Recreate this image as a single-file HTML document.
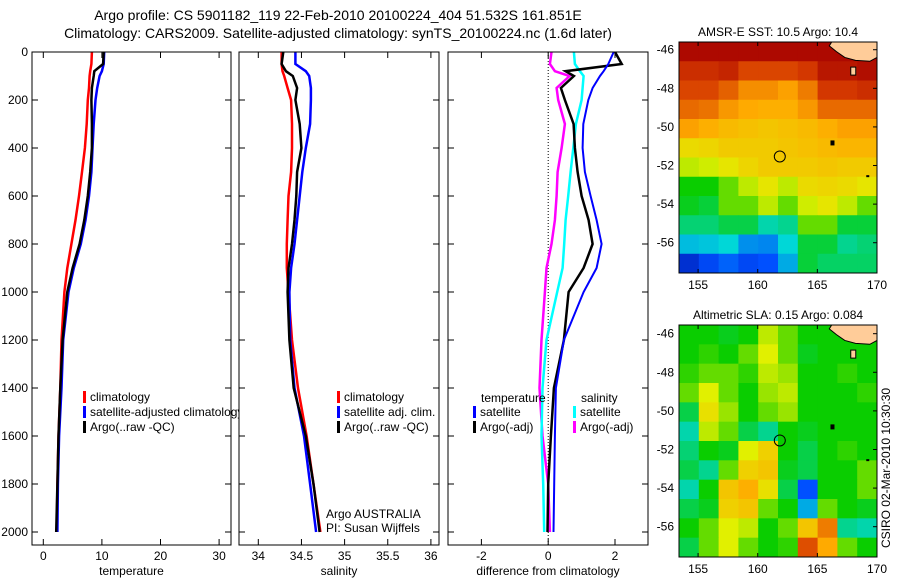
<!DOCTYPE html>
<html><head><meta charset="utf-8"><style>
body{margin:0;background:#fff}
svg{display:block;font-family:"Liberation Sans",sans-serif}
</style></head><body>
<svg id="s" width="900" height="580" viewBox="0 0 900 580">
<rect width="900" height="580" fill="#fff"/>
<text x="338" y="20" font-size="14" text-anchor="middle">Argo profile: CS 5901182_119 22-Feb-2010 20100224_404 51.532S 161.851E</text>
<text x="338" y="38" font-size="14" text-anchor="middle">Climatology: CARS2009. Satellite-adjusted climatology: synTS_20100224.nc (1.6d later)</text>
<g id="g"></g>
</svg>
<script>
const depths=[0,50,80,100,150,200,300,400,500,600,700,800,900,1000,1200,1400,1600,1800,2000];
const tempClim=[8.3,8.2,8.0,7.9,7.8,7.6,7.4,7.1,6.6,6.1,5.5,4.8,4.1,3.6,3.1,2.9,2.6,2.4,2.3];
const tempSatClim=[10.4,10.3,10.0,9.6,9.2,8.9,8.6,8.4,8.2,7.8,7.2,6.4,5.2,4.3,3.4,3.1,2.7,2.5,2.4];
const tempArgo=[10.3,10.2,8.7,8.6,8.3,8.2,8.3,8.3,8.0,7.6,7.0,6.2,5.0,4.1,3.3,2.9,2.6,2.4,2.2];
const salClim=[34.27,34.27,34.28,34.30,34.34,34.38,34.39,34.39,34.38,34.35,34.34,34.33,34.33,34.35,34.39,34.46,34.56,34.64,34.72];
const salSatClim=[34.43,34.43,34.55,34.59,34.61,34.61,34.60,34.55,34.51,34.48,34.45,34.42,34.38,34.36,34.37,34.42,34.53,34.60,34.67];
const salArgo=[34.29,34.27,34.32,34.40,34.45,34.43,34.48,34.50,34.45,34.44,34.42,34.39,34.35,34.34,34.36,34.41,34.55,34.64,34.71];
const diffTempSat=[1.96,1.8,1.66,1.55,1.33,1.2,1.05,1.03,1.1,1.27,1.45,1.6,1.45,1.06,0.47,0.23,0.2,0.18,0.16];
const diffTempArgo=[2.0,2.2,0.52,0.77,0.38,0.5,0.76,0.8,0.88,1.0,1.21,1.33,1.06,0.61,0.47,0.17,0.08,0.0,-0.02];
const diffSalSat=[0.77,0.8,0.95,1.06,1.03,1.0,0.83,0.75,0.67,0.6,0.52,0.48,0.43,0.27,-0.05,-0.17,-0.2,-0.15,-0.12];
const diffSalArgo=[0.1,0.05,0.2,0.64,0.25,0.3,0.5,0.4,0.28,0.25,0.2,0.1,-0.05,-0.1,-0.2,-0.26,-0.17,0.0,0.05];
const depthTicks=[0,200,400,600,800,1000,1200,1400,1600,1800,2000];
const tempTicks=[0,10,20,30];
const salTicks=[34,34.5,35,35.5,36];
const diffTicks=[-2,0,2];
const lonTicks=[155,160,165,170];
const latTicks=[-46,-48,-50,-52,-54,-56];
const sstGrid=[
[.98,.98,.98,.98,.98,.98,.98,.98,.98,.98],
[.9,.9,.92,.86,.86,.86,.88,.95,.95,.97],
[.86,.86,.83,.78,.78,.76,.8,.88,.88,.9],
[.82,.81,.77,.75,.74,.74,.77,.82,.82,.82],
[.76,.74,.72,.71,.7,.71,.72,.74,.76,.76],
[.66,.67,.69,.69,.69,.7,.71,.72,.73,.73],
[.6,.61,.64,.67,.69,.69,.69,.7,.69,.69],
[.5,.5,.55,.6,.64,.6,.66,.67,.66,.64],
[.48,.46,.55,.55,.6,.55,.61,.64,.6,.55],
[.42,.42,.45,.45,.38,.4,.55,.55,.46,.46],
[.32,.33,.35,.27,.26,.35,.46,.46,.4,.42],
[.12,.18,.22,.18,.2,.3,.46,.43,.43,.43]];
const slaGrid=[
[.5,.5,.48,.5,.6,.55,.5,.5,.5,.5],
[.5,.52,.5,.55,.62,.55,.48,.5,.5,.5],
[.52,.55,.55,.52,.6,.58,.5,.5,.52,.5],
[.55,.62,.55,.5,.58,.6,.5,.5,.5,.52],
[.45,.65,.58,.5,.55,.58,.5,.5,.5,.5],
[.38,.6,.55,.45,.4,.5,.48,.5,.5,.5],
[.42,.5,.48,.62,.68,.5,.45,.5,.52,.5],
[.45,.4,.55,.68,.7,.48,.45,.5,.5,.55],
[.38,.5,.7,.74,.65,.45,.2,.5,.5,.55],
[.45,.48,.68,.7,.55,.5,.3,.55,.5,.48],
[.5,.55,.62,.6,.5,.55,.7,.8,.4,.38],
[.45,.55,.62,.55,.5,.52,.85,.75,.55,.5]];
const argoLon=161.851, argoLat=-51.532;

const NS='http://www.w3.org/2000/svg';
const G=document.getElementById('g');
function mk(tag,attrs,parent){const e=document.createElementNS(NS,tag);for(const k in attrs)e.setAttribute(k,attrs[k]);(parent||G).appendChild(e);return e;}
const Y0=52,Y1=545;
const yD=d=>Y0+d*0.24;
function panel(x0,x1,xf,ticks,fmt,label,name,showY){
  const g=mk('g',{});
  
  
  mk('rect',{x:x0,y:Y0,width:x1-x0,height:Y1-Y0,fill:'#fff',stroke:'none'},g);
  ticks.forEach(t=>{const x=xf(t);
    const tk=mk('path',{d:`M${x},${Y1}v-6M${x},${Y0}v6`,stroke:'#000','stroke-width':1},g);
    
    const tl=mk('text',{x:x,y:Y1+15,'font-size':12,'text-anchor':'middle'},g);tl.textContent=fmt(t);
    });
  depthTicks.forEach(d=>{const y=yD(d);
    const tk=mk('path',{d:`M${x0},${y}h6M${x1},${y}h-6`,stroke:'#000','stroke-width':1},g);
    
    if(showY){const tl=mk('text',{x:x0-4,y:y+4,'font-size':12,'text-anchor':'end'},g);tl.textContent=d;
    }});
  const xl=mk('text',{x:(x0+x1)/2,y:575,'font-size':12,'text-anchor':'middle'},g);xl.textContent=label;
  
  return g;
}
function line(g,xf,vals,color,w,name){
  const pts=vals.map((v,i)=>xf(v).toFixed(1)+','+yD(depths[i]).toFixed(1)).join(' ');
  const p=mk('polyline',{points:pts,fill:'none',stroke:color,'stroke-width':w,'stroke-linejoin':'miter'},g);
  
}
function border(g,x0,x1){mk('rect',{x:x0,y:Y0,width:x1-x0,height:Y1-Y0,fill:'none',stroke:'#000','stroke-width':1},g);}
function legend(g,x,y,color,txt,name){
  mk('rect',{x:x,y:y-10,width:3,height:12,fill:color},g);
  const t=mk('text',{x:x+7,y:y,'font-size':12},g);t.textContent=txt;
  
}
const xT=v=>43.3+v*5.86;
const p1=panel(32,231,xT,tempTicks,t=>t,'temperature','temperature-panel',true);
line(p1,xT,tempClim,'#f00',2.5,'temp-climatology-line');
line(p1,xT,tempSatClim,'#00f',2.5,'temp-satellite-line');
line(p1,xT,tempArgo,'#000',2.5,'temp-argo-line');
legend(p1,83,401,'#f00','climatology','legend-climatology');
legend(p1,83,416,'#00f','satellite-adjusted climatology','legend-satellite');
legend(p1,83,431,'#000','Argo(..raw -QC)','legend-argo');
const xS=v=>258.3+(v-34)*86.3;
const p2=panel(239,439,xS,salTicks,t=>t,'salinity','salinity-panel',false);
line(p2,xS,salClim,'#f00',2.5,'sal-climatology-line');
line(p2,xS,salSatClim,'#00f',2.5,'sal-satellite-line');
line(p2,xS,salArgo,'#000',2.5,'sal-argo-line');
legend(p2,337,401,'#f00','climatology','legend-climatology');
legend(p2,337,416,'#00f','satellite adj. clim.','legend-satellite');
legend(p2,337,431,'#000','Argo(..raw -QC)','legend-argo');
let t1=mk('text',{x:326,y:518,'font-size':12},p2);t1.textContent='Argo AUSTRALIA';

let t2=mk('text',{x:326,y:532,'font-size':12},p2);t2.textContent='PI: Susan Wijffels';

const xDf=v=>548.2+v*33.4;
const p3=panel(448,648,xDf,diffTicks,t=>t===-2?'-2':t,'difference from climatology','difference-panel',false);
mk('line',{x1:xDf(0),y1:Y0,x2:xDf(0),y2:Y1,stroke:'#000','stroke-width':1,'stroke-dasharray':'1,2'},p3);
line(p3,xDf,diffSalArgo,'#f0f',2.5,'diff-sal-argo-line');
line(p3,xDf,diffSalSat,'#0ff',2.5,'diff-sal-satellite-line');
line(p3,xDf,diffTempArgo,'#000',2.5,'diff-temp-argo-line');
line(p3,xDf,diffTempSat,'#00f',2,'diff-temp-satellite-line');
let tt=mk('text',{x:481,y:402,'font-size':12},p3);tt.textContent='temperature';

let ts=mk('text',{x:581,y:402,'font-size':12},p3);ts.textContent='salinity';

legend(p3,473,416,'#00f','satellite','legend-temp-satellite');
legend(p3,473,431,'#000','Argo(-adj)','legend-temp-argo');
legend(p3,573,416,'#0ff','satellite','legend-sal-satellite');
legend(p3,573,431,'#f0f','Argo(-adj)','legend-sal-argo');
border(p1,32,231);border(p2,239,439);border(p3,448,648);

const cmapStops=[[0,0,0,140],[0.2,0,80,255],[0.35,0,215,215],[0.5,10,205,0],[0.62,225,240,0],[0.75,255,170,0],[0.87,215,60,0],[1,165,0,0]];
function cmap(v){v=Math.max(0,Math.min(1,v));
  for(let i=1;i<cmapStops.length;i++){const a=cmapStops[i-1],b=cmapStops[i];
    if(v<=b[0]){const f=(v-a[0])/(b[0]-a[0]);
      return `rgb(${Math.round(a[1]+f*(b[1]-a[1]))},${Math.round(a[2]+f*(b[2]-a[2]))},${Math.round(a[3]+f*(b[3]-a[3]))})`;}}
  return 'rgb(165,0,0)';}
function map(grid,top,bottom,title,name,latTop){
  const x0=679,x1=877,lonL=153.4,lonR=170;
  const xm=lon=>x0+(lon-lonL)*(x1-x0)/(lonR-lonL);
  const ym=lat=>top+(latTop-lat)*19.3;
  const g=mk('g',{});
  
  const rows=grid.length,cols=grid[0].length,cw=(x1-x0)/cols,ch=(bottom-top)/rows;
  grid.forEach((row,i)=>row.forEach((v,j)=>{
    const c=mk('rect',{x:(x0+j*cw).toFixed(2),y:(top+i*ch).toFixed(2),width:(cw+0.5).toFixed(2),height:(ch+0.5).toFixed(2),fill:cmap(v)},g);
    }));
  const land=mk('polygon',{points:`${xm(166.2)},${top} ${x1},${top} ${x1},${ym(latTop-0.8)} ${xm(169.4)},${ym(latTop-1.0)} ${xm(168.2)},${ym(latTop-0.95)} ${xm(167.3)},${ym(latTop-0.8)} ${xm(166.6)},${ym(latTop-0.5)} ${xm(166.0)},${ym(latTop-0.2)}`,fill:'#ffcc99',stroke:'#000','stroke-width':1},g);
  
  mk('rect',{x:xm(167.8),y:ym(latTop-1.3),width:5,height:8,fill:'#ffcc99',stroke:'#000','stroke-width':1},g);
  mk('rect',{x:xm(166.1),y:ym(-50.7),width:4,height:5,fill:'#000'},g);
  mk('rect',{x:xm(169.1),y:ym(-52.5),width:3,height:2,fill:'#000'},g);
  const circ=mk('circle',{cx:xm(argoLon),cy:ym(argoLat),r:5.5,fill:'none',stroke:'#000','stroke-width':1},g);
  
  mk('rect',{x:x0,y:top,width:x1-x0,height:bottom-top,fill:'none',stroke:'#000','stroke-width':1},g);
  lonTicks.forEach(l=>{const x=xm(l);mk('path',{d:`M${x},${bottom}v-4M${x},${top}v4`,stroke:'#000'},g);
    const t=mk('text',{x:x,y:bottom+16,'font-size':12,'text-anchor':'middle'},g);t.textContent=l;
    });
  latTicks.forEach(l=>{const y=ym(l);mk('path',{d:`M${x1},${y}h-4`,stroke:'#000'},g);
    const t=mk('text',{x:x0-5,y:y+4,'font-size':12,'text-anchor':'end'},g);t.textContent=l;
    });
  const tl=mk('text',{x:778,y:top-6,'font-size':12,'text-anchor':'middle'},g);tl.textContent=title;
  
}
map(sstGrid,42,273,'AMSR-E SST: 10.5 Argo: 10.4','sst-map',-45.6);
map(slaGrid,325,557,'Altimetric SLA: 0.15 Argo: 0.084','sla-map',-45.55);
const cs=mk('text',{x:0,y:0,'font-size':12,'text-anchor':'middle',transform:'translate(890,468) rotate(-90)'});
cs.textContent='CSIRO 02-Mar-2010 10:30:30';


</script>
</body></html>
